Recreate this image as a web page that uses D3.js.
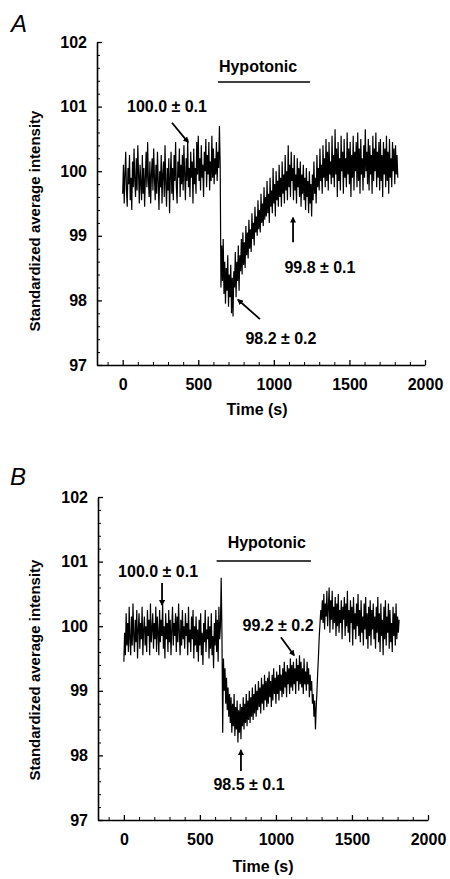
<!DOCTYPE html>
<html>
<head>
<meta charset="utf-8">
<script src="https://cdn.jsdelivr.net/npm/d3@7"></script>
<style>
  body { margin: 0; background: #fff; }
  svg { display: block; }
  text { font-family: "Liberation Sans", Arial, sans-serif; font-weight: bold; fill: #000; }
</style>
</head>
<body>
<div id="chart"></div>
<script>
// Sample spacing of both traces (s)
const STEP = 5;

// Panel A trace, one value every 5 s from t = 0 (10 values per row = 50 s)
const traceA = [
  99.65, 100.10, 99.50, 99.95, 100.30, 99.70, 99.45, 100.05, 99.80, 100.25,
  99.55, 99.90, 99.40, 100.15, 99.75, 100.35, 99.85, 99.60, 100.20, 99.70,
  100.40, 99.95, 99.50, 100.10, 99.80, 99.55, 100.25, 99.65, 100.05, 99.45,
  99.90, 100.30, 99.75, 100.45, 99.85, 99.60, 100.15, 99.50, 99.95, 100.20,
  99.70, 100.35, 99.90, 99.55, 100.10, 99.65, 100.30, 99.85, 99.40, 100.00,
  99.75, 100.25, 99.50, 99.95, 100.15, 99.60, 100.40, 99.80, 99.45, 100.05,
  99.70, 100.20, 99.35, 99.90, 100.30, 99.65, 100.05, 99.55, 100.25, 99.85,
  100.45, 99.75, 99.50, 100.15, 99.90, 100.35, 99.60, 100.10, 99.80, 100.25,
  99.70, 100.40, 99.95, 99.55, 100.20, 99.85, 100.50, 99.75, 100.05, 99.60,
  100.30, 99.90, 100.15, 99.50, 100.35, 99.80, 100.05, 99.65, 100.45, 99.95,
  100.55, 99.85, 100.20, 99.70, 100.40, 99.90, 100.10, 99.60, 100.30, 100.00,
  100.50, 99.75, 100.25, 99.95, 100.45, 99.70, 100.15, 99.85, 100.55, 99.90,
  100.35, 99.80, 100.20, 99.95, 100.45, 99.85, 100.30, 100.05, 100.70, 100.10,
  98.20, 98.85, 98.30, 98.95, 98.10, 98.60, 97.95, 98.50, 98.15, 98.70,
  97.90, 98.40, 98.05, 98.55, 97.80, 98.35, 97.75, 98.45, 98.20, 98.75,
  98.05, 98.60, 98.30, 98.85, 98.15, 98.70, 98.45, 98.95, 98.40, 99.05,
  98.55, 98.90, 98.50, 99.15, 98.70, 99.05, 98.65, 99.25, 98.80, 99.10,
  98.75, 99.35, 98.95, 99.20, 98.85, 99.45, 99.05, 99.30, 99.00, 99.55,
  99.10, 99.40, 99.05, 99.65, 99.20, 99.50, 99.15, 99.75, 99.25, 99.60,
  99.30, 99.85, 99.35, 99.65, 99.20, 99.90, 99.45, 99.70, 99.35, 100.05,
  99.50, 99.80, 99.30, 100.00, 99.55, 99.85, 99.45, 100.10, 99.60, 99.90,
  99.45, 100.15, 99.65, 99.95, 99.50, 100.25, 99.70, 100.00, 99.55, 100.40,
  99.75, 100.10, 99.60, 100.30, 99.85, 100.05, 99.55, 100.25, 99.70, 99.95,
  99.50, 100.20, 99.75, 100.05, 99.60, 100.15, 99.45, 99.95, 99.65, 100.10,
  99.55, 99.90, 99.40, 100.05, 99.60, 99.85, 99.35, 100.00, 99.50, 99.80,
  99.30, 99.95, 99.55, 100.15, 99.65, 99.90, 99.50, 100.25, 99.75, 100.05,
  99.70, 100.35, 99.85, 100.10, 99.65, 100.40, 99.90, 100.20, 99.75, 100.50,
  99.85, 100.30, 99.70, 100.45, 99.95, 100.15, 99.80, 100.55, 99.90, 100.25,
  99.75, 100.65, 99.95, 100.35, 99.60, 100.45, 99.85, 100.20, 99.70, 100.55,
  100.00, 100.30, 99.65, 100.50, 99.90, 100.20, 99.75, 100.60, 99.95, 100.35,
  99.80, 100.45, 99.60, 100.25, 99.90, 100.55, 99.70, 100.30, 100.00, 100.45,
  99.75, 100.60, 99.85, 100.35, 99.65, 100.50, 99.95, 100.20, 99.70, 100.40,
  99.90, 100.65, 100.00, 100.30, 99.80, 100.50, 99.70, 100.40, 99.95, 100.25,
  99.65, 100.55, 99.85, 100.35, 100.00, 100.60, 99.75, 100.30, 99.90, 100.45,
  99.70, 100.50, 99.85, 100.25, 99.60, 100.45, 99.95, 100.35, 99.75, 100.55,
  99.85, 100.30, 99.65, 100.50, 99.90, 100.20, 99.75, 100.45, 100.00, 100.35,
  99.80, 100.40, 99.95, 100.25, 99.90
];

// Panel B trace, one value every 5 s from t = 0 (10 values per row = 50 s)
const traceB = [
  99.45, 99.90, 99.55, 100.20, 99.70, 100.05, 99.60, 100.30, 99.80, 99.55,
  100.15, 99.70, 100.35, 99.85, 99.60, 100.10, 99.75, 100.25, 99.50, 99.95,
  100.20, 99.65, 100.05, 99.80, 100.30, 99.55, 99.95, 100.15, 99.70, 100.00,
  99.60, 100.25, 99.85, 100.10, 99.55, 100.35, 99.75, 99.95, 100.20, 99.65,
  100.05, 99.80, 100.30, 99.60, 100.15, 99.90, 99.55, 100.25, 99.75, 100.10,
  99.85, 100.35, 99.65, 100.00, 99.50, 100.20, 99.80, 100.05, 99.60, 100.25,
  99.75, 100.10, 99.55, 99.95, 100.30, 99.70, 100.05, 99.85, 100.20, 99.60,
  100.15, 99.75, 100.35, 99.90, 99.55, 100.10, 99.70, 100.25, 99.80, 100.00,
  99.65, 100.20, 99.85, 100.05, 99.55, 100.30, 99.75, 99.95, 99.60, 100.15,
  99.80, 100.25, 99.50, 100.00, 99.70, 100.15, 99.60, 99.95, 99.45, 100.10,
  99.70, 100.20, 99.55, 99.90, 99.40, 100.05, 99.75, 100.25, 99.60, 99.95,
  99.80, 100.15, 99.50, 100.00, 99.65, 100.20, 99.55, 99.85, 99.35, 100.05,
  99.70, 100.25, 99.60, 100.10, 99.45, 100.30, 99.80, 100.00, 100.75, 99.90,
  98.35, 99.50, 99.00, 99.35, 98.80, 99.20, 98.70, 99.05, 98.60, 98.95,
  98.50, 98.90, 98.35, 98.80, 98.45, 98.95, 98.30, 98.75, 98.40, 98.85,
  98.20, 98.70, 98.35, 98.80, 98.25, 98.75, 98.45, 98.90, 98.40, 98.80,
  98.50, 98.95, 98.45, 98.85, 98.55, 99.00, 98.50, 98.90, 98.60, 99.05,
  98.55, 98.95, 98.65, 99.10, 98.60, 99.00, 98.70, 99.15, 98.75, 99.05,
  98.65, 99.20, 98.80, 99.10, 98.70, 99.25, 98.85, 99.15, 98.75, 99.20,
  98.80, 99.30, 98.90, 99.15, 98.75, 99.25, 98.85, 99.35, 98.95, 99.20,
  98.80, 99.30, 98.95, 99.25, 98.85, 99.40, 99.00, 99.25, 98.90, 99.35,
  98.95, 99.45, 99.05, 99.30, 98.90, 99.40, 99.10, 99.35, 98.95, 99.50,
  99.05, 99.40, 99.00, 99.45, 99.10, 99.35, 98.95, 99.50, 99.15, 99.40,
  99.00, 99.55, 99.10, 99.45, 99.05, 99.35, 98.95, 99.50, 99.10, 99.30,
  99.00, 99.45, 99.10, 99.35, 98.90, 99.25, 99.00, 99.15, 98.80, 98.95,
  98.60, 98.85, 98.40, 98.75, 99.00, 99.30, 99.55, 99.85, 100.05, 100.25,
  100.10, 100.40, 100.05, 100.50, 99.95, 100.35, 100.15, 100.55, 100.00, 100.30,
  100.60, 99.90, 100.40, 100.10, 100.55, 99.95, 100.30, 100.05, 100.45, 99.85,
  100.35, 100.00, 100.50, 99.90, 100.25, 100.05, 100.40, 99.80, 100.30, 100.10,
  100.45, 99.85, 100.35, 100.00, 100.55, 99.90, 100.25, 99.75, 100.40, 100.05,
  100.30, 99.70, 100.45, 99.95, 100.20, 99.80, 100.35, 100.00, 100.50, 99.85,
  100.25, 99.75, 100.40, 99.90, 100.15, 99.70, 100.35, 99.95, 100.45, 99.80,
  100.20, 99.65, 100.30, 99.85, 100.40, 99.70, 100.25, 99.95, 100.35, 99.80,
  100.15, 99.65, 100.30, 99.90, 100.45, 99.75, 100.20, 99.60, 100.35, 99.85,
  100.10, 99.55, 100.30, 99.80, 100.40, 99.70, 100.15, 99.90, 100.35, 99.65,
  100.25, 99.75, 100.05, 99.60, 100.30, 99.85, 100.20, 99.70, 100.35, 99.80,
  100.15, 99.90, 100.10
];

// Axis ticks
const xMajorTicks = [0, 500, 1000, 1500, 2000];
const xMinorTicks = [-100, 100, 200, 300, 400, 600, 700, 800, 900, 1100, 1200, 1300, 1400, 1600, 1700, 1800, 1900];
const yMajorTicks = [97, 98, 99, 100, 101, 102];
const yMinorTicks = [97.2, 97.4, 97.6, 97.8, 98.2, 98.4, 98.6, 98.8, 99.2, 99.4, 99.6, 99.8,
  100.2, 100.4, 100.6, 100.8, 101.2, 101.4, 101.6, 101.8];

// Hypotonic period [start, end, level] in data units
const hypoA = [630, 1240, 101.38];
const hypoB = [610, 1230, 101.01];

// Annotations: label, label position (t, v), arrow from (t, v) to (t, v)
const notesA = [
  { label: "100.0 ± 0.1", t: 293, v: 100.92, a: [326, 100.75, 432, 100.45] },
  { label: "98.2 ± 0.2", t: 1047, v: 97.33, a: [908, 97.71, 763, 98.01] },
  { label: "99.8 ± 0.1", t: 1305, v: 98.42, a: [1127, 98.90, 1127, 99.28] },
];
const notesB = [
  { label: "100.0 ± 0.1", t: 225, v: 100.76, a: [251, 100.67, 251, 100.33] },
  { label: "99.2 ± 0.2", t: 1014, v: 99.93, a: [1033, 99.83, 1119, 99.55] },
  { label: "98.5 ± 0.1", t: 823, v: 97.46, a: [770, 97.76, 770, 98.08] },
];

const W = 450, H = 879;

const svg = d3.select("#chart").append("svg").attr("width", W).attr("height", H);

svg.append("defs").append("marker")
  .attr("id", "arrow")
  .attr("viewBox", "0 0 10 10")
  .attr("refX", 8).attr("refY", 5)
  .attr("markerWidth", 6).attr("markerHeight", 6)
  .attr("markerUnits", "userSpaceOnUse")
  .attr("orient", "auto")
  .append("path").attr("d", "M0,0 L10,5 L0,10 z").attr("fill", "#000");

function drawPanel(cfg) {
  const g = svg.append("g").attr("transform", `translate(${cfg.left},${cfg.top})`);

  const x = d3.scaleLinear().domain([-170, 2000]).range([0, cfg.width]);
  const y = d3.scaleLinear().domain([97, 102]).range([cfg.height, 0]);

  // minor ticks, drawn inward
  g.append("g")
    .attr("transform", `translate(0,${cfg.height})`)
    .call(d3.axisBottom(x).tickValues(xMinorTicks).tickSize(-3).tickFormat(""))
    .call((a) => a.select(".domain").remove());
  g.append("g")
    .call(d3.axisLeft(y).tickValues(yMinorTicks).tickSize(-3).tickFormat(""))
    .call((a) => a.select(".domain").remove());

  // major ticks + labels
  const xAxis = g.append("g")
    .attr("transform", `translate(0,${cfg.height})`)
    .call(d3.axisBottom(x).tickValues(xMajorTicks).tickFormat(d3.format("d"))
      .tickSizeInner(-5).tickSizeOuter(0).tickPadding(14));
  const yAxis = g.append("g")
    .call(d3.axisLeft(y).tickValues(yMajorTicks).tickFormat(d3.format("d"))
      .tickSizeInner(-5).tickSizeOuter(0).tickPadding(10));

  [xAxis, yAxis].forEach((a) => {
    a.select(".domain").attr("stroke-width", 1.6);
    a.selectAll(".tick line").attr("stroke-width", 1.3);
    a.selectAll("text").style("font-size", "16px").style("font-family", null);
  });
  g.selectAll(".tick line").attr("stroke", "#000");

  // trace
  const line = d3.line()
    .x((d, i) => x(i * STEP))
    .y((d) => y(d));

  g.append("path")
    .datum(cfg.trace)
    .attr("fill", "none")
    .attr("stroke", "#000")
    .attr("stroke-width", 1.2)
    .attr("d", line);

  // hypotonic bar
  g.append("line")
    .attr("x1", x(cfg.hypo[0])).attr("x2", x(cfg.hypo[1]))
    .attr("y1", y(cfg.hypo[2])).attr("y2", y(cfg.hypo[2]))
    .attr("stroke", "#000").attr("stroke-width", 1.5);
  g.append("text")
    .attr("x", x((cfg.hypo[0] + cfg.hypo[1]) / 2) - cfg.hypoShift)
    .attr("y", y(cfg.hypo[2]) - cfg.hypoGap)
    .attr("text-anchor", "middle")
    .style("font-size", "16px")
    .text("Hypotonic");

  // annotations
  cfg.notes.forEach((n) => {
    g.append("text")
      .attr("x", x(n.t)).attr("y", y(n.v))
      .attr("text-anchor", "middle")
      .style("font-size", "16px")
      .text(n.label);
    g.append("line")
      .attr("x1", x(n.a[0])).attr("y1", y(n.a[1]))
      .attr("x2", x(n.a[2])).attr("y2", y(n.a[3]))
      .attr("stroke", "#000").attr("stroke-width", 1.8)
      .attr("marker-end", "url(#arrow)");
  });

  // axis titles
  g.append("text")
    .attr("x", cfg.xTitle[0]).attr("y", cfg.height + cfg.xTitle[1])
    .attr("text-anchor", "middle")
    .style("font-size", "16px")
    .text("Time (s)");
  g.append("text")
    .attr("transform", `translate(${cfg.yTitle[0]},${cfg.yTitle[1]}) rotate(-90)`)
    .attr("text-anchor", "middle")
    .style("font-size", "15px")
    .text("Standardized average intensity");

  // panel letter
  svg.append("text")
    .attr("x", cfg.letterPos[0]).attr("y", cfg.letterPos[1])
    .style("font-size", "24px")
    .style("font-weight", "normal")
    .style("font-style", "italic")
    .text(cfg.letter);
}

drawPanel({
  letter: "A", letterPos: [11, 32],
  left: 97, top: 42, width: 328, height: 323,
  trace: traceA, hypo: hypoA, hypoShift: 6, hypoGap: 10, notes: notesA,
  xTitle: [160, 50], yTitle: [-57, 179],
});

drawPanel({
  letter: "B", letterPos: [10, 485],
  left: 98, top: 497, width: 330, height: 323,
  trace: traceB, hypo: hypoB, hypoShift: -3, hypoGap: 13, notes: notesB,
  xTitle: [165, 52], yTitle: [-58, 173],
});
</script>
</body>
</html>
